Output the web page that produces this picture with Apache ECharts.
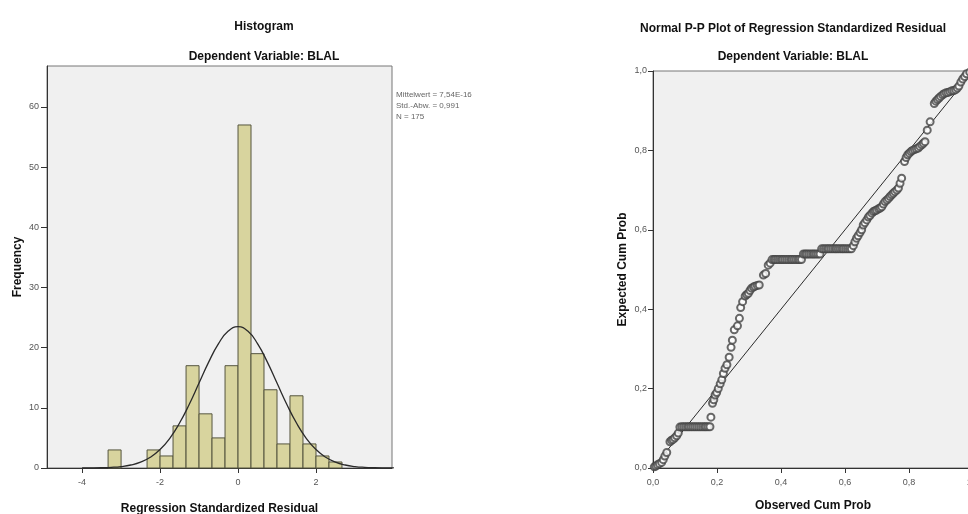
<!DOCTYPE html>
<html>
<head>
<meta charset="utf-8">
<script src="https://cdn.jsdelivr.net/npm/echarts@6/dist/echarts.min.js"></script>
<style>
html,body{margin:0;padding:0;background:#ffffff;}
#chart{width:968px;height:514px;}
</style>
</head>
<body>
<div id="chart"></div>
<script>
// ---- Histogram data ----
var binLeftEdges = [-3.333, -3.0, -2.667, -2.333, -2.0, -1.667, -1.333, -1.0, -0.667, -0.333, 0.0, 0.333, 0.667, 1.0, 1.333, 1.667, 2.0, 2.333];
var binCounts    = [3, 0, 0, 3, 2, 7, 17, 9, 5, 17, 57, 19, 13, 4, 12, 4, 2, 1];
var binWidth = 0.3333;

// normal curve
var curveX = [-4, -3.75, -3.5, -3.25, -3, -2.75, -2.5, -2.25, -2, -1.75, -1.5, -1.25, -1, -0.75, -0.5, -0.25, 0,
              0.25, 0.5, 0.75, 1, 1.25, 1.5, 1.75, 2, 2.25, 2.5, 2.75, 3, 3.25, 3.5, 3.75, 4];
var curveY = [0.01, 0.02, 0.05, 0.11, 0.24, 0.5, 0.97, 1.78, 3.06, 4.94, 7.47, 10.6, 14.11, 17.63, 20.67, 22.75, 23.48,
              22.75, 20.67, 17.63, 14.11, 10.6, 7.47, 4.94, 3.06, 1.78, 0.97, 0.5, 0.24, 0.11, 0.05, 0.02, 0.01];

var histXTicks = [-4, -2, 0, 2];
var histYTicks = [0, 10, 20, 30, 40, 50, 60];
var statsLines = ['Mittelwert = 7,54E-16', 'Std.-Abw. = 0,991', 'N = 175'];

// ---- P-P plot data: [observed cum prob, expected cum prob] ----
var ppPoints = [
 [0.004,0.003],[0.009,0.005],[0.014,0.008],[0.02,0.011],[0.027,0.014],[0.032,0.021],[0.037,0.03],[0.043,0.039],
 [0.053,0.066],[0.058,0.07],[0.063,0.072],[0.068,0.076],[0.074,0.081],[0.079,0.088],
 [0.084,0.103],[0.09,0.104],[0.096,0.104],[0.102,0.104],[0.108,0.104],[0.113,0.104],[0.119,0.104],[0.125,0.104],
 [0.131,0.104],[0.137,0.104],[0.143,0.104],[0.149,0.104],[0.155,0.104],[0.161,0.104],[0.166,0.104],[0.172,0.104],[0.178,0.104],
 [0.181,0.128],[0.186,0.163],[0.19,0.172],[0.194,0.184],[0.199,0.19],[0.204,0.2],[0.21,0.212],[0.215,0.222],
 [0.22,0.238],[0.225,0.251],[0.231,0.26],[0.238,0.279],[0.244,0.304],[0.248,0.322],[0.254,0.348],[0.264,0.358],
 [0.27,0.377],[0.274,0.404],[0.28,0.419],[0.288,0.433],[0.293,0.437],[0.298,0.44],[0.303,0.447],[0.308,0.453],
 [0.314,0.456],[0.319,0.458],[0.326,0.46],[0.332,0.461],[0.345,0.486],[0.352,0.49],[0.36,0.511],[0.366,0.516],
 [0.372,0.525],[0.378,0.525],[0.383,0.525],[0.389,0.525],[0.395,0.525],[0.401,0.525],[0.406,0.525],[0.412,0.525],
 [0.418,0.525],[0.424,0.525],[0.43,0.525],[0.435,0.525],[0.441,0.525],[0.447,0.525],[0.453,0.525],[0.458,0.525],[0.464,0.525],
 [0.47,0.539],[0.476,0.539],[0.481,0.539],[0.487,0.539],[0.493,0.539],[0.499,0.539],[0.504,0.539],[0.51,0.539],[0.516,0.539],[0.522,0.539],
 [0.527,0.552],[0.533,0.552],[0.539,0.552],[0.545,0.552],[0.55,0.552],[0.556,0.552],[0.562,0.552],[0.568,0.552],
 [0.573,0.552],[0.579,0.552],[0.585,0.552],[0.591,0.552],[0.596,0.552],[0.602,0.552],[0.608,0.552],[0.614,0.552],[0.62,0.552],
 [0.626,0.56],[0.631,0.57],[0.636,0.579],[0.641,0.585],[0.647,0.593],[0.652,0.6],[0.657,0.612],[0.662,0.618],
 [0.668,0.625],[0.673,0.632],[0.678,0.636],[0.684,0.642],[0.689,0.646],[0.694,0.648],[0.699,0.65],[0.705,0.653],
 [0.71,0.655],[0.715,0.658],[0.72,0.665],[0.725,0.671],[0.731,0.675],[0.736,0.679],[0.741,0.684],[0.746,0.688],
 [0.751,0.692],[0.756,0.696],[0.762,0.7],[0.767,0.705],[0.772,0.717],[0.777,0.73],
 [0.786,0.772],[0.791,0.782],[0.796,0.789],[0.801,0.793],[0.806,0.797],[0.811,0.8],[0.817,0.802],[0.823,0.804],
 [0.829,0.806],[0.834,0.81],[0.84,0.814],[0.845,0.818],[0.85,0.822],[0.857,0.851],[0.866,0.872],[0.879,0.918],
 [0.884,0.924],[0.889,0.928],[0.894,0.932],[0.899,0.936],[0.905,0.94],[0.91,0.943],[0.916,0.945],[0.922,0.946],
 [0.928,0.948],[0.934,0.95],[0.94,0.951],[0.946,0.953],[0.951,0.957],[0.956,0.962],[0.962,0.972],[0.968,0.98],
 [0.974,0.986],[0.98,0.993],[0.99,0.997]
];
var ppDiagonal = [[0, 0], [1, 1]];

// ---- build ----
var FONT = 'Liberation Sans, Arial, sans-serif';
var histData = binLeftEdges.map(function (x, i) { return [x, x + binWidth, binCounts[i]]; });
var curveData = curveX.map(function (x, i) { return [x, curveY[i]]; });

function comma(v, digits) {
  return v.toFixed(digits).replace('.', ',');
}

var chart = echarts.init(document.getElementById('chart'), null, { renderer: 'canvas' });

var tickLabel = { color: '#555', fontSize: 9, fontFamily: FONT };
var axisNameStyle = { color: '#111', fontSize: 12, fontWeight: 'bold', fontFamily: FONT };

var option = {
  backgroundColor: '#ffffff',
  animation: false,
  title: [
    { text: 'Histogram', left: 259, top: 16, textAlign: 'center',
      textStyle: { fontSize: 12, fontWeight: 'bold', color: '#111', fontFamily: FONT } },
    { text: 'Dependent Variable: BLAL', left: 259, top: 46, textAlign: 'center',
      textStyle: { fontSize: 12, fontWeight: 'bold', color: '#111', fontFamily: FONT } },
    { text: 'Normal P-P Plot of Regression Standardized Residual', left: 788, top: 18, textAlign: 'center',
      textStyle: { fontSize: 12, fontWeight: 'bold', color: '#111', fontFamily: FONT } },
    { text: 'Dependent Variable: BLAL', left: 788, top: 46, textAlign: 'center',
      textStyle: { fontSize: 12, fontWeight: 'bold', color: '#111', fontFamily: FONT } }
  ],
  graphic: statsLines.map(function (t, i) {
    return { type: 'text', x: 396, y: 91 + i * 11,
      style: { text: t, fill: '#666', font: '8px ' + FONT } };
  }),
  grid: [
    { left: 47, top: 66, width: 345, height: 402, show: true, backgroundColor: '#f0f0f0', borderColor: '#777', borderWidth: 1,
      containLabel: false, outerBoundsMode: 'none' },
    { left: 653, top: 71, width: 320, height: 397, show: true, backgroundColor: '#f0f0f0', borderColor: '#777', borderWidth: 1,
      containLabel: false, outerBoundsMode: 'none' }
  ],
  xAxis: [
    { type: 'value', gridIndex: 0, min: -4.9, max: 3.95,
      name: 'Regression Standardized Residual', nameLocation: 'middle', nameGap: 35, nameTextStyle: axisNameStyle,
      axisLine: { show: true, onZero: false, lineStyle: { color: '#333', width: 1 } },
      axisTick: { show: true, length: 5, lineStyle: { color: '#333' }, customValues: histXTicks },
      axisLabel: Object.assign({ margin: 10, customValues: histXTicks, formatter: function (v) { return String(v); } }, tickLabel),
      splitLine: { show: false } },
    { type: 'value', gridIndex: 1, min: 0, max: 1, interval: 0.2,
      name: 'Observed Cum Prob', nameLocation: 'middle', nameGap: 32, nameTextStyle: axisNameStyle,
      axisLine: { show: true, onZero: false, lineStyle: { color: '#333', width: 1 } },
      axisTick: { show: true, length: 5, lineStyle: { color: '#333' } },
      axisLabel: Object.assign({ margin: 10, formatter: function (v) { return comma(v, 1); } }, tickLabel),
      splitLine: { show: false } }
  ],
  yAxis: [
    { type: 'value', gridIndex: 0, min: 0, max: 66.8,
      name: 'Frequency', nameLocation: 'middle', nameGap: 23, nameTextStyle: axisNameStyle,
      axisLine: { show: true, onZero: false, lineStyle: { color: '#333', width: 1 } },
      axisTick: { show: true, length: 6, lineStyle: { color: '#333' }, customValues: histYTicks },
      axisLabel: Object.assign({ margin: 8, customValues: histYTicks, formatter: function (v) { return String(v); } }, tickLabel),
      splitLine: { show: false } },
    { type: 'value', gridIndex: 1, min: 0, max: 1, interval: 0.2,
      name: 'Expected Cum Prob', nameLocation: 'middle', nameGap: 24, nameTextStyle: axisNameStyle,
      axisLine: { show: true, onZero: false, lineStyle: { color: '#333', width: 1 } },
      axisTick: { show: true, length: 5, lineStyle: { color: '#333' } },
      axisLabel: Object.assign({ margin: 6, formatter: function (v) { return comma(v, 1); } }, tickLabel),
      splitLine: { show: false } }
  ],
  series: [
    { type: 'custom', xAxisIndex: 0, yAxisIndex: 0, data: histData,
      renderItem: function (params, api) {
        var y = api.value(2);
        if (!y) return null;
        var p0 = api.coord([api.value(0), y]);
        var p1 = api.coord([api.value(1), 0]);
        return { type: 'rect',
          shape: { x: p0[0], y: p0[1], width: p1[0] - p0[0], height: p1[1] - p0[1] },
          style: { fill: '#d8d49e', stroke: '#55553f', lineWidth: 1 } };
      },
      z: 2 },
    { type: 'line', xAxisIndex: 0, yAxisIndex: 0, data: curveData, smooth: true, showSymbol: false, symbol: 'none',
      lineStyle: { color: '#2a2a2a', width: 1.3 }, z: 3 },
    { type: 'line', xAxisIndex: 1, yAxisIndex: 1, data: ppDiagonal, showSymbol: false, symbol: 'none',
      lineStyle: { color: '#2a2a2a', width: 1 }, z: 2 },
    { type: 'scatter', xAxisIndex: 1, yAxisIndex: 1, data: ppPoints, symbol: 'emptyCircle', symbolSize: 7,
      itemStyle: { color: '#444', borderColor: '#444', borderWidth: 1 }, z: 3 }
  ]
};

chart.setOption(option);
</script>
</body>
</html>
